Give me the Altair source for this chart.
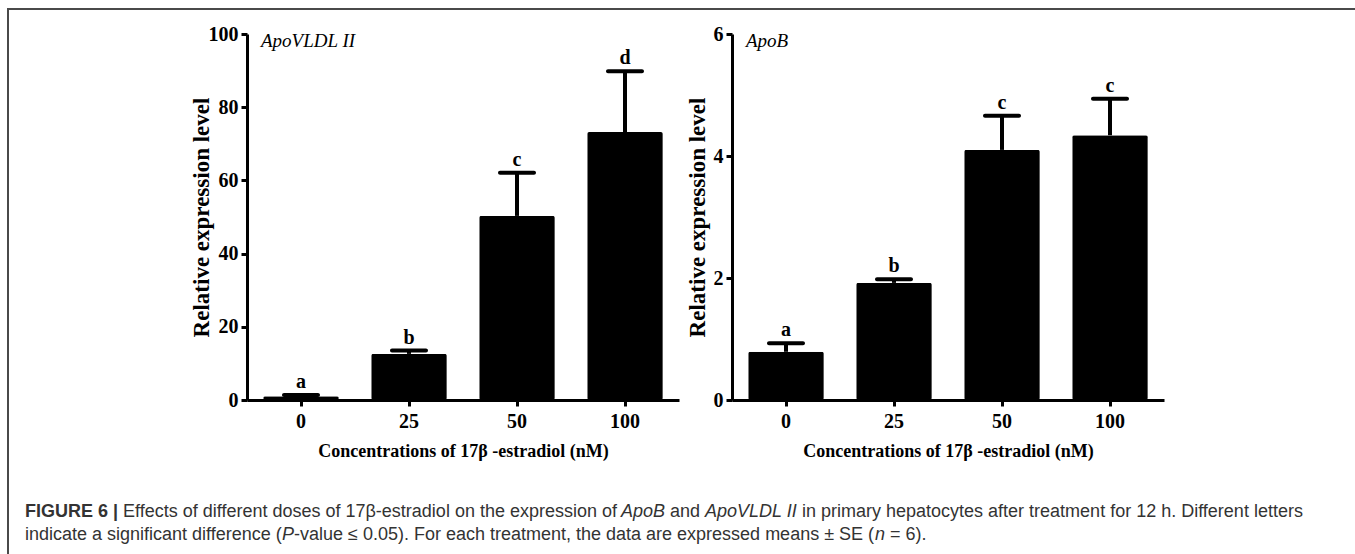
import altair as alt
import pandas as pd

# Concentrations of 17β-estradiol (nM)
conc = ["0", "25", "50", "100"]

# ApoVLDL II relative expression (mean, SE) and significance letters
vldl_mean = [1.0, 12.6, 50.3, 73.2]
vldl_se = [0.4, 0.9, 11.8, 16.6]
vldl_letters = ["a", "b", "c", "d"]
vldl_ticks = [0, 20, 40, 60, 80, 100]

# ApoB relative expression (mean, SE) and significance letters
apob_mean = [0.79, 1.92, 4.10, 4.34]
apob_se = [0.14, 0.06, 0.56, 0.60]
apob_letters = ["a", "b", "c", "c"]
apob_ticks = [0, 2, 4, 6]

# Figure caption, split where the type style changes
caption_line1 = [
    "FIGURE 6 |",
    "Effects of different doses of 17β-estradiol on the expression of",
    "ApoB",
    "and",
    "ApoVLDL II",
    "in primary hepatocytes after treatment for 12 h. Different letters",
]
caption_line2 = [
    "indicate a significant difference (",
    "P",
    "-value ≤ 0.05). For each treatment, the data are expressed means ± SE (",
    "n",
    "= 6).",
]

# layout of the caption pieces: x start, weight, style
line1_layout = [(25, "bold", "normal"), (123, "normal", "normal"), (621, "normal", "italic"),
                (670, "normal", "normal"), (705, "normal", "italic"), (802, "normal", "normal")]
line2_layout = [(25, "normal", "normal"), (282, "normal", "italic"), (294, "normal", "normal"),
                (875, "normal", "italic"), (890, "normal", "normal")]

SERIF = "Liberation Serif"
SANS = "Liberation Sans"
X_TITLE = "Concentrations of 17β -estradiol (nM)"
Y_TITLE = "Relative expression level"
Y_TOP, Y_BOTTOM = 34, 400

one_row = pd.DataFrame({"k": [0]})


def panel(mean, se, letters, ticks, x_range, gene, title_x):
    df = pd.DataFrame({"conc": conc, "mean": mean, "se": se, "letter": letters})
    base = alt.Chart(df).transform_calculate(upper="datum.mean + datum.se")

    x = alt.X(
        "conc:N", sort=conc,
        scale=alt.Scale(range=x_range, paddingInner=0.3, paddingOuter=0.15),
        axis=alt.Axis(
            orient="bottom", title=X_TITLE, labelAngle=0,
            labelFont=SERIF, labelFontWeight="bold", labelFontSize=20, labelColor="black",
            labelPadding=5,
            titleFont=SERIF, titleFontWeight="bold", titleFontSize=18, titleColor="black",
            titlePadding=11,
            domainColor="black", domainWidth=3, tickColor="black", tickWidth=3, tickSize=6,
            grid=False,
        ),
    )
    yscale = alt.Scale(domain=[ticks[0], ticks[-1]], range=[Y_BOTTOM, Y_TOP], nice=False)
    yaxis = alt.Axis(
        orient="left", offset=-x_range[0], values=ticks, title=Y_TITLE,
        labelFont=SERIF, labelFontWeight="bold", labelFontSize=20, labelColor="black",
        labelPadding=3,
        titleFont=SERIF, titleFontWeight="bold", titleFontSize=23, titleColor="black",
        titleX=title_x, titleY=(Y_TOP + Y_BOTTOM) / 2,
        domainColor="black", domainWidth=3, tickColor="black", tickWidth=3, tickSize=6,
        grid=False,
    )

    bars = base.mark_bar(color="black", cornerRadius=2).encode(
        x=x, y=alt.Y("mean:Q", scale=yscale, axis=yaxis)
    )
    stems = base.mark_rule(color="black", strokeWidth=4).encode(
        x=x, y=alt.Y("mean:Q", scale=yscale, axis=yaxis), y2="upper:Q"
    )
    caps = base.mark_tick(color="black", opacity=1, orient="horizontal", size=38,
                          thickness=4, cornerRadius=2).encode(
        x=x, y=alt.Y("upper:Q", scale=yscale, axis=yaxis)
    )
    marks = base.mark_text(font=SERIF, fontWeight="bold", fontSize=20, color="black",
                           baseline="bottom", dy=-3).encode(
        x=x, y=alt.Y("upper:Q", scale=yscale, axis=yaxis), text="letter:N"
    )
    gene_label = alt.Chart(one_row).mark_text(
        font=SERIF, fontStyle="italic", fontSize=19, color="black", align="left",
        baseline="alphabetic",
    ).encode(x=alt.value(x_range[0] + 14), y=alt.value(47), text=alt.value(gene))

    return alt.layer(bars, stems, caps, marks, gene_label)


left = panel(vldl_mean, vldl_se, vldl_letters, vldl_ticks, [247, 679], "ApoVLDL II", -34)
right = panel(apob_mean, apob_se, apob_letters, apob_ticks, [732, 1164], "ApoB", -23)

caption_layers = []
for texts, layout, y in ((caption_line1, line1_layout, 517), (caption_line2, line2_layout, 540)):
    for txt, (x0, weight, style) in zip(texts, layout):
        caption_layers.append(
            alt.Chart(one_row).mark_text(
                font=SANS, fontSize=18, fontWeight=weight, fontStyle=style,
                color="#333333", align="left", baseline="alphabetic",
            ).encode(x=alt.value(x0), y=alt.value(y), text=alt.value(txt))
        )

frame_top = alt.Chart(one_row).mark_rule(color="#4a4a4a", strokeWidth=2).encode(
    x=alt.value(8), x2=alt.value(1355), y=alt.value(9)
)
frame_left = alt.Chart(one_row).mark_rule(color="#4a4a4a", strokeWidth=2).encode(
    x=alt.value(8), y=alt.value(8), y2=alt.value(554)
)

chart = (
    alt.layer(left, right, *caption_layers, frame_top, frame_left)
    .resolve_scale(x="independent", y="independent")
    .properties(
        width=1355, height=400,
        autosize=alt.AutoSizeParams(type="none"),
        padding={"left": 0, "top": 0, "right": 0, "bottom": 154},
    )
    .configure(background="white")
    .configure_view(stroke=None)
)

chart.save("out.html", embed_options={"renderer": "svg", "actions": False})
